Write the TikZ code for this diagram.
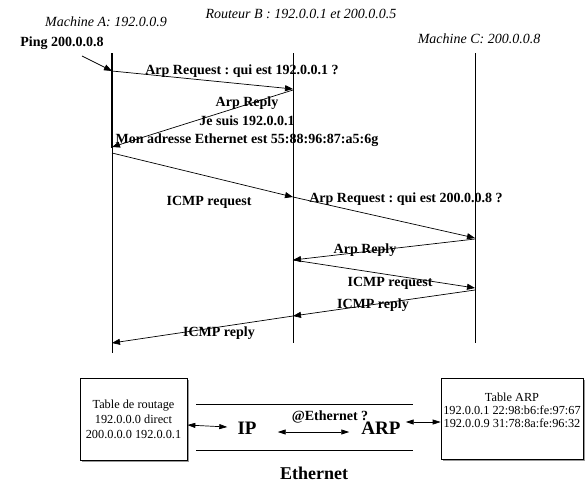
\documentclass[tikz,border=0pt]{standalone}
\usepackage{fontspec}
\setmainfont{Liberation Serif}
\frenchspacing
\usetikzlibrary{arrows.meta,shadows}
\tikzset{
    msg/.style={-{Triangle[length=8pt,width=6pt]},line width=0.7pt},
    both/.style={{Triangle[length=8pt,width=5pt]}-{Triangle[length=8pt,width=5pt]},line width=0.7pt},
    lbl/.style={font=\fontsize{14}{16}\bfseries\selectfont,inner sep=0pt},
    who/.style={font=\fontsize{14}{16}\itshape\selectfont,inner sep=0pt},
    big/.style={font=\fontsize{19}{22}\bfseries\selectfont,inner sep=0pt},
    tablebox/.style={draw,fill=white,line width=0.7pt,inner sep=0pt,
        drop shadow={shadow xshift=2pt,shadow yshift=-2pt,fill=gray,opacity=0.8},
        font=\fontsize{12.3}{15}\selectfont,align=center}
}
\begin{document}
\begin{tikzpicture}[x=1pt,y=-1pt]
        \useasboundingbox (0,0) rectangle (586,483);

        \coordinate (atop) at (112,53);
        \coordinate (amid) at (112,148);
        \coordinate (abot) at (112,353);
        \coordinate (btop) at (293,53);
        \coordinate (bbot) at (293,343);
        \coordinate (ctop) at (475,53);
        \coordinate (cbot) at (475,343);

        \draw [line width=0.7pt] (atop) -- (abot);
        \draw [line width=1.8pt] (atop) -- (amid);
        \draw [line width=0.7pt] (btop) -- (bbot);
        \draw [line width=0.7pt] (ctop) -- (cbot);

        \coordinate (ping) at (82,56);
        \coordinate (a1) at (112,71);
        \coordinate (a2) at (112,147);
        \coordinate (a3) at (112,153);
        \coordinate (a4) at (112,343);
        \coordinate (b1) at (293,89);
        \coordinate (b2) at (293,90);
        \coordinate (b3) at (293,197);
        \coordinate (b4) at (293,260);
        \coordinate (b5) at (293,316);
        \coordinate (c1) at (475,238);
        \coordinate (c2) at (475,239);
        \coordinate (c3) at (475,288);
        \coordinate (c4) at (475,290);

        \draw [msg] (ping) -- (a1);
        \draw [msg] (a1) -- (b1);
        \draw [msg] (b2) -- (a2);
        \draw [msg] (a3) -- (b3);
        \draw [msg] (b3) -- (c1);
        \draw [msg] (c2) -- (b4);
        \draw [msg] (b4) -- (c3);
        \draw [msg] (c4) -- (b5);
        \draw [msg] (b5) -- (a4);

        \node (nameA) at (106,22) [who] {Machine A: 192.0.0.9};
        \node (nameB) at (301,14) [who] {Routeur B : 192.0.0.1 et 200.0.0.5};
        \node (nameC) at (479,39) [who] {Machine C: 200.0.0.8};
        \node (pinglbl) at (62,43) [lbl] {Ping 200.0.0.8};

        \node (arpreq) at (242,71) [lbl] {Arp Request : qui est 192.0.0.1 ?};
        \node (arprep) at (247,122) [lbl,align=center,font=\fontsize{14}{18.5}\bfseries\selectfont]
            {Arp Reply\\Je suis 192.0.0.1\\Mon adresse Ethernet est 55:88:96:87:a5:6g};
        \node (icmpreq) at (209,202) [lbl] {ICMP request};
        \node (arpreqc) at (406,199) [lbl] {Arp Request : qui est 200.0.0.8 ?};
        \node (arprepc) at (365,250) [lbl] {Arp Reply};
        \node (icmpreqc) at (390,283) [lbl] {ICMP request};
        \node (icmprepc) at (373,305) [lbl] {ICMP reply};
        \node (icmprep) at (219,333) [lbl] {ICMP reply};

        \node (routage) at (133.5,419) [tablebox,minimum width=107pt,minimum height=82pt]
            {Table de routage\\192.0.0.0 direct\\200.0.0.0 192.0.0.1};
        \node (tablearp) at (512,418.5) [tablebox,minimum width=142pt,minimum height=81pt] {};
        \node (arptxt) at (512,410) [align=center,inner sep=0pt,font=\fontsize{12.3}{13}\selectfont]
            {Table ARP\\192.0.0.1 22:98:b6:fe:97:67\\192.0.0.9 31:78:8a:fe:96:32};

        \draw [line width=0.7pt] (196,404) -- (413,404);
        \draw [line width=0.7pt] (196,450) -- (413,450);

        \node (ip) at (247,428) [big] {IP};
        \node (arp) at (381,428) [big] {ARP};
        \node (qeth) at (330,417) [lbl] {@Ethernet ?};
        \node (eth) at (314,473) [big,font=\fontsize{18}{22}\bfseries\selectfont] {Ethernet};

        \draw [both] ([yshift=-6pt]routage.east) -- ([xshift=-10pt,yshift=1pt]ip.west);
        \draw [both] ([xshift=21pt,yshift=-4pt]ip.east) -- ([xshift=-12pt,yshift=-4pt]arp.west);
        \draw [both] ([xshift=5pt,yshift=6pt]arp.east) -- ([yshift=-3.5pt]tablearp.west);
    \end{tikzpicture}
\end{document}
